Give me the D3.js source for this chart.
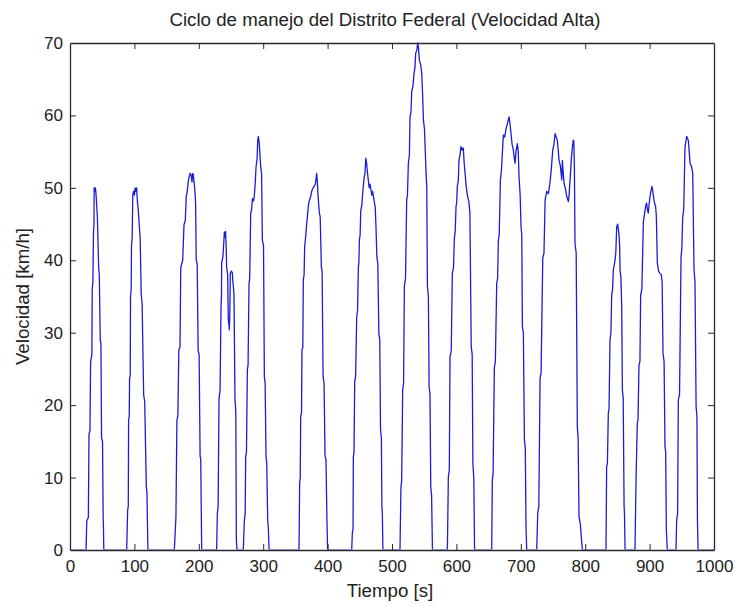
<!DOCTYPE html>
<html>
<head>
<meta charset="utf-8">
<script src="https://cdn.jsdelivr.net/npm/d3@7/dist/d3.min.js"></script>
<style>
  html, body { margin: 0; padding: 0; background: #ffffff; }
  svg { display: block; }
  text { font-family: "Liberation Sans", Arial, sans-serif; fill: #222; }
</style>
</head>
<body>
<svg id="chart" width="735" height="607"></svg>
<script>
// ---------- DATA ----------
const titleText = "Ciclo de manejo del Distrito Federal (Velocidad Alta)";
const xLabelText = "Tiempo [s]";
const yLabelText = "Velocidad [km/h]";
const xTicks = [0, 100, 200, 300, 400, 500, 600, 700, 800, 900, 1000];
const yTicks = [0, 10, 20, 30, 40, 50, 60, 70];

// time [s] and speed [km/h]
const tiempo = [
  0,
  25,26,28.5,29.5,31,32,34,34.5,35.5,36.5,37.3,37.5,38.5,39.5,40.5,41.5,42.5,44.5,45.5,47,48,49,50.5,51.5,52,52.5,
  88,89.5,90.5,91,92,92.5,93.5,94,95,95.5,96.5,97.5,98.5,100,101,102.5,103.5,104.5,106,107.7,109,110.5,112,114.4,116,118.5,119.5,120.2,121,
  162,163,164.5,166,167.5,169,170.8,172,175,177,179,180.5,182,183.7,185,186.5,188,189.5,190.5,191.5,193,194,195,196,197.5,199,200.5,202,203,204.5,
  227.7,228.8,230,231.4,233,234.5,235.2,235.5,237.5,239.7,240.5,241.5,242.5,243.2,244.8,245.8,247,247.4,248.2,248.9,250.5,252,253,254.6,256.2,257.5,258.3,259.3,
  269.1,270.7,272,272.8,274,275.4,276.5,278,279,280.6,282,283.2,285,286.3,287.5,288.9,290.5,291.5,292.5,294,296.1,297.5,298.7,300.5,301.8,303,304.4,305.5,307,308,309.1,
  355.6,356.6,357.5,358.2,359.5,360.2,361.5,362.3,363.5,364.4,366,367.5,370.6,373.7,375.8,378.9,381,383,384,385.1,387.2,388.5,390.3,391.5,393,394.5,396,397.5,399,400,
  437.4,438.4,439.5,440,441,442.1,443.5,445.2,446.5,447.8,448.5,449.4,450.5,451.5,453,454.7,456.8,458,459.3,460.5,462,464.6,466,468.7,470,472.4,473.9,475,476.5,478,479.6,481,482.2,483.5,484.3,485,485.9,
  512.4,513.9,515,516.6,518,519.2,521,522.8,524,525.4,527,528,529.5,530.6,532.5,534.2,535.5,536.8,538.5,539.9,541,542.5,544.5,546.2,547.5,548.8,550.5,552.9,554,555,556.5,557.6,559,560.2,561.5,562.8,
  586,587.5,589,590.1,592,593.7,595.5,596.8,598.2,599.4,600.5,601.4,603,604,605.5,607.1,609,610.8,612,613.5,615.2,617,619.5,621,623,624.5,625.6,627,628.2,
  654.8,655.8,657,658.9,660.5,662.6,664,665.2,666.5,668.3,670,672.9,675,677.1,679,681.7,683,684.8,686.5,688.5,690,691.1,692.5,694.7,696,697.3,699,700.4,701.5,702.5,704,705.6,707,708.1,709.2,
  724.7,726.3,728,729.9,731.5,734.1,736,737.7,740.3,742.9,745,747,749.6,751.5,753.2,755,756.9,759.4,761.5,763.6,764.6,765.5,767.2,769,771.4,773.9,775,776.5,778.5,780.2,781.5,782.3,783.2,784.2,786,787.8,789,790.4,792.5,795.6,
  832.3,833.3,834.5,835.9,837,838.5,840,841.1,842.5,843.7,845,846.3,847.5,848.9,850.5,852.5,853.5,854.1,855.5,856.7,857.2,857.7,859,860.4,861,861.9,
  877.3,879,880.9,882,883.5,885,886.1,888,890.3,891.5,892.8,894,895.4,896.5,898,899,900.6,902,903.7,905,906.8,908,909.4,910.5,912,914,916.1,918.2,919.5,920.8,922.5,923.9,925,926,927.5,
  941,942,943.5,944.6,946.5,948.8,950,951.4,953,955,956.5,957.6,959,960.2,961.5,962.8,965,967,968,969,970.5,972.2,973.5,974.3,975.3,
  1000
];
const velocidad = [
  0,
  0,4,4.5,16,16.5,26,27,36,37,44,45,50,49.5,50,49,47.5,46,39,38,29,28.5,15.5,15,4.5,3,0,
  0,5.5,6,17.9,18.5,23.7,24,35,36,42,43,49,49.5,49,50,49.5,50,48.3,47,44.6,43,35.4,34,21.4,20.5,8.7,8,4.1,0,
  0,1.8,4.6,17.9,18.5,27.6,28,39,40,44.9,45.5,48.8,49.5,50.9,51.5,52,51.8,50.8,52,51.8,50.5,49.5,48,40,39.5,27.5,27,13,12.5,0,
  0,5.1,6,20.9,22,33.6,35,39.6,40.5,43.9,43.2,44,42,39.1,38,31.8,31,30.4,33,38.2,38.5,38.3,37,35.4,20.9,19,1.4,0,
  0,4.1,5,12.9,13.5,24.9,25.5,36.8,37.5,46.5,47,48.5,48.2,49,50.5,52.9,54,56.5,57.1,56,52.9,52,42.8,42,23.9,23,12.9,12,4.1,3,0,
  0,9.2,10,18.4,19,27.6,28,37.3,38,41.9,43.3,45,47.9,48.8,49.7,50.2,50.5,52,51,49,46.5,46,39.1,38.5,24,23,13,12.5,4,0,
  0,2.3,3,12.9,13.5,23.2,24,32.2,33,39.1,39.5,42.8,43.5,46.9,47.5,49.5,51.5,52,54.1,53.5,52,50,50.5,49,49.5,48.1,47.4,45,40.5,39.5,29.9,29,16.6,15.5,6,5,0,
  0,8.7,9.5,22.1,23,36.4,37.5,48.3,49,53.4,54.5,59.8,60.5,63.3,64,65.8,66.5,68.6,69,70,69.5,67.6,67,65.8,63,59.4,58,52,50,36.4,35,22.5,21.5,8.7,7.5,0,
  0,10.1,11,26.7,27.5,38.2,39,43,44,47.4,48,50.2,51,53.8,54.5,55.7,55.2,55.5,53.5,52,50.2,49,48,46.5,28.1,27,12,10,0,
  0,9.7,10.5,25.1,26,36.8,37.5,42.8,43.5,51.1,52.5,57.3,57,58.2,58.8,59.8,59,57.5,56,55.2,54,53.4,55,56.1,55,51.5,49,44.6,43.5,30.8,30,15.2,14,3.2,0,
  0,5.1,6,23.7,24.5,40.3,41,48.3,49.5,49.2,50.5,52.2,55.2,56,57.5,57,56.5,53.8,53,51.1,53.8,52.5,50.6,50,48.8,48.1,49,51.1,54,55.7,56.6,56.5,53,42.3,41,17,15.5,4.6,3.5,0,
  0,11.5,12,18.9,19.5,29,30,35.2,36,38.7,39.3,40,41,44.6,45,43.5,42,38.7,37.5,33.6,28,22.1,21,6,5,0,
  0,10,17.5,18,25.5,26,35.2,36,45.3,46,46.9,47.5,47.9,47,46.5,47.5,48.8,49.5,50.2,49.5,48.3,47.8,47.4,46,39.6,38.5,38.2,38,37,27.2,26,14.3,13.5,2.8,0,
  0,4.1,5,20.7,21.5,40.5,41.5,46,47,55.7,56.5,57.1,56.8,56.5,55,53.4,53,52,45,38.7,37,19.8,18.5,4.1,0,
  0
];

// ---------- LAYOUT ----------
const svg = d3.select("#chart");
const W = 735, H = 607;
const plot = { left: 70, right: 714, top: 43, bottom: 550 };

svg.append("rect").attr("width", W).attr("height", H).attr("fill", "#ffffff");

const x = d3.scaleLinear().domain([0, 1000]).range([plot.left, plot.right]);
const y = d3.scaleLinear().domain([0, 70]).range([plot.bottom, plot.top]);

// clip (bottom edge stops at the axis so the zero-speed stretches hide under it)
svg.append("defs").append("clipPath").attr("id", "clip")
  .append("rect")
  .attr("x", plot.left).attr("y", plot.top - 1)
  .attr("width", plot.right - plot.left).attr("height", plot.bottom - plot.top + 0.5);

// data line
const pts = tiempo.map((t, i) => [t, velocidad[i]]);
const line = d3.line().x(d => x(d[0])).y(d => y(d[1]));
svg.append("path")
  .datum(pts)
  .attr("clip-path", "url(#clip)")
  .attr("fill", "none")
  .attr("stroke", "#1c1cd6")
  .attr("stroke-width", 1.3)
  .attr("stroke-linejoin", "round")
  .attr("d", line);

// axes (MATLAB style: inward ticks, boxed)
const tickLen = 6;
const axisColor = "#2a2a2a";
const tickFont = 17;

const gx = svg.append("g").attr("transform", `translate(0,${plot.bottom})`)
  .call(d3.axisBottom(x).tickValues(xTicks).tickFormat(d3.format("d"))
    .tickSizeInner(-tickLen).tickSizeOuter(0).tickPadding(10));
const gxt = svg.append("g").attr("transform", `translate(0,${plot.top})`)
  .call(d3.axisTop(x).tickValues(xTicks).tickFormat("")
    .tickSizeInner(-tickLen).tickSizeOuter(0));
const gy = svg.append("g").attr("transform", `translate(${plot.left},0)`)
  .call(d3.axisLeft(y).tickValues(yTicks).tickFormat(d3.format("d"))
    .tickSizeInner(-tickLen).tickSizeOuter(0).tickPadding(7));
const gyr = svg.append("g").attr("transform", `translate(${plot.right},0)`)
  .call(d3.axisRight(y).tickValues(yTicks).tickFormat("")
    .tickSizeInner(-tickLen).tickSizeOuter(0));

[gx, gxt, gy, gyr].forEach(g => {
  g.selectAll("path.domain").attr("stroke", axisColor).attr("stroke-width", 1.3);
  g.selectAll(".tick line").attr("stroke", axisColor).attr("stroke-width", 1);
  g.selectAll(".tick text")
    .attr("fill", "#222")
    .style("font-family", '"Liberation Sans", Arial, sans-serif')
    .style("font-size", tickFont + "px");
});
// hide ticks that sit on the box corners
gx.selectAll(".tick").filter(d => d === 0 || d === 1000).select("line").remove();
gxt.selectAll(".tick").filter(d => d === 0 || d === 1000).select("line").remove();
gy.selectAll(".tick").filter(d => d === 0 || d === 70).select("line").remove();
gyr.selectAll(".tick").filter(d => d === 0 || d === 70).select("line").remove();

// title & labels
svg.append("text")
  .attr("x", 385).attr("y", 26)
  .attr("text-anchor", "middle")
  .style("font-size", "18.7px")
  .text(titleText);

svg.append("text")
  .attr("x", 390).attr("y", 597)
  .attr("text-anchor", "middle")
  .style("font-size", "18.7px")
  .text(xLabelText);

svg.append("text")
  .attr("transform", `translate(29,${(plot.top + plot.bottom) / 2}) rotate(-90)`)
  .attr("text-anchor", "middle")
  .style("font-size", "18.7px")
  .text(yLabelText);
</script>
</body>
</html>
